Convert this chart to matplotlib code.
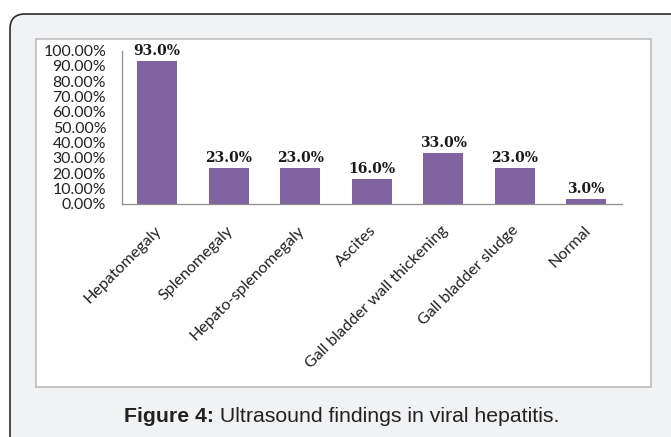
import matplotlib
matplotlib.use('Agg')
import matplotlib.pyplot as plt
import matplotlib.transforms as mtransforms
from matplotlib.patches import FancyBboxPatch, Rectangle
import numpy as np

categories = ['Hepatomegaly', 'Splenomegaly', 'Hepato-splenomegaly', 'Ascites',
              'Gall bladder wall thickening', 'Gall bladder sludge', 'Normal']
values = [93.0, 23.0, 23.0, 16.0, 33.0, 23.0, 3.0]
yticks = [0, 10, 20, 30, 40, 50, 60, 70, 80, 90, 100]

W, H = 671, 437
fig = plt.figure(figsize=(W / 100, H / 100), dpi=100)
fig.patch.set_facecolor('white')

# page frame (pixel coords, origin bottom-left)
pix = mtransforms.IdentityTransform()
outer = FancyBboxPatch((10, -20), 680, H - 14 + 20,
                       boxstyle='round,pad=0,rounding_size=15',
                       transform=pix, facecolor='#f1f2f4', edgecolor='#2b2b2b',
                       linewidth=1.2, zorder=-10)
fig.patches.append(outer)
inner = Rectangle((36, H - 387), 651 - 36, 387 - 39, transform=pix,
                  facecolor='white', edgecolor='#bdbdbd', linewidth=1.2, zorder=-9)
fig.patches.append(inner)

# axes
left, right, top, bottom = 121.5, 622, 50.5, 203.7
ax = fig.add_axes([left / W, 1 - bottom / H, (right - left) / W, (bottom - top) / H])
ax.set_facecolor('none')

x = np.arange(len(categories))
ax.bar(x, values, width=0.56, color='#8064A2')
for xi, v in zip(x, values):
    ax.text(xi, v + 2, '%.1f%%' % v, ha='center', va='bottom',
            fontsize=10, fontweight='bold', family='DejaVu Serif', color='#1a1a1a')

ax.set_xlim(-0.5, len(categories) - 0.5)
ax.set_ylim(0, 100)
ax.set_yticks(yticks)
ax.set_yticklabels(['%.2f%%' % t for t in yticks], family='Lato', fontsize=11.4, color='#222222')
ax.tick_params(axis='y', length=0, pad=11)
ax.set_xticks(x)
ax.set_xticklabels(categories, rotation=45, ha='right', rotation_mode='anchor',
                   family='Lato', fontsize=11.6, color='#222222')
ax.tick_params(axis='x', length=0, pad=14)
offset = mtransforms.ScaledTranslation(-3 / 100, 0, fig.dpi_scale_trans)
for lab in ax.get_xticklabels():
    lab.set_transform(lab.get_transform() + offset)

for s in ['top', 'right']:
    ax.spines[s].set_visible(False)
ax.spines['left'].set_color('#8c8c8c')
ax.spines['bottom'].set_color('#8c8c8c')
ax.spines['left'].set_linewidth(0.9)
ax.spines['bottom'].set_linewidth(0.9)

# caption: bold part + regular part, centred together
cy = 1 - 417 / H
t1 = fig.text(0, cy, 'Figure 4:', family='Liberation Sans', fontweight='bold',
              fontsize=15.3, color='#222222', ha='left', va='center')
t2 = fig.text(0, cy, ' Ultrasound findings in viral hepatitis.', family='Liberation Sans',
              fontsize=15.3, color='#222222', ha='left', va='center')
r = fig.canvas.get_renderer()
w1 = t1.get_window_extent(r).width
w2 = t2.get_window_extent(r).width
x0 = 342 - (w1 + w2) / 2
t1.set_x(x0 / W)
t2.set_x((x0 + w1) / W)

fig.savefig('out.png', dpi=100)
